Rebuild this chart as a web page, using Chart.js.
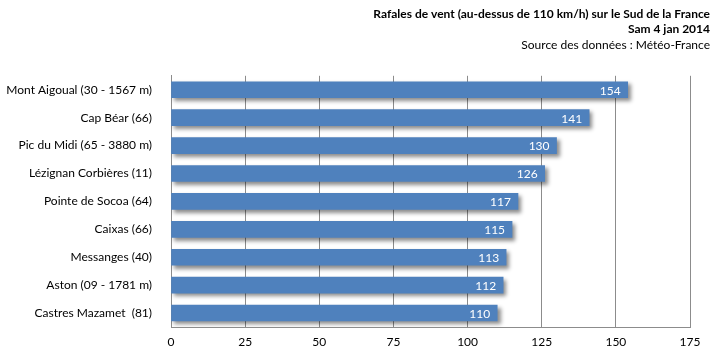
<!DOCTYPE html>
<html>
<head>
<meta charset="utf-8">
<script src="https://cdn.jsdelivr.net/npm/chart.js@4"></script>
<style>
  html, body { margin: 0; padding: 0; background: #fff; }
  #wrap { width: 716px; height: 360px; }
</style>
</head>
<body>
<div id="wrap"><canvas id="chart"></canvas></div>
<script>
const stations = [
    'Mont Aigoual (30 - 1567 m)',
    'Cap Béar (66)',
    'Pic du Midi (65 - 3880 m)',
    'Lézignan Corbières (11)',
    'Pointe de Socoa (64)',
    'Caixas (66)',
    'Messanges (40)',
    'Aston (09 - 1781 m)',
    'Castres Mazamet  (81)'
];
const gusts = [154, 141, 130, 126, 117, 115, 113, 112, 110];
const titleLines = ['Rafales de vent (au-dessus de 110 km/h) sur le Sud de la France', 'Sam 4 jan 2014'];
const sourceLine = 'Source des données : Météo-France';

const FONT = 'Lato, "Open Sans", sans-serif';
const GRID = '#8c8c8c';

// drop shadow under the bars, like the spreadsheet original
const barShadow = {
    id: 'barShadow',
    beforeDatasetsDraw(chart) {
        const ctx = chart.ctx;
        ctx.save();
        ctx.shadowColor = 'rgba(0,0,0,0.45)';
        ctx.shadowBlur = 4;
        ctx.shadowOffsetX = 3;
        ctx.shadowOffsetY = 3;
    },
    afterDatasetsDraw(chart) {
        chart.ctx.restore();
    }
};

// white value at the end of each bar
const valueLabels = {
    id: 'valueLabels',
    afterDatasetsDraw(chart) {
        const ctx = chart.ctx;
        const meta = chart.getDatasetMeta(0);
        ctx.save();
        ctx.fillStyle = '#ffffff';
        ctx.font = '12px ' + FONT;
        ctx.textAlign = 'right';
        ctx.textBaseline = 'middle';
        meta.data.forEach((bar, i) => {
            ctx.fillText(String(gusts[i]), bar.x - 7, bar.y + 1);
        });
        ctx.restore();
    }
};

const config = {
    type: 'bar',
    data: {
        labels: stations,
        datasets: [{
            data: gusts,
            backgroundColor: '#4f81bd',
            barThickness: 16
        }]
    },
    options: {
        indexAxis: 'y',
        responsive: true,
        maintainAspectRatio: false,
        animation: false,
        layout: { padding: { left: 0, right: 6, top: 0, bottom: 0 } },
        plugins: {
            legend: { display: false },
            tooltip: { enabled: false },
            title: {
                display: true,
                text: titleLines,
                align: 'end',
                color: '#000',
                font: { family: FONT, size: 12, weight: 'bold', lineHeight: 1.3 },
                padding: { top: 6, bottom: 0 }
            },
            subtitle: {
                display: true,
                text: sourceLine,
                align: 'end',
                color: '#000',
                font: { family: FONT, size: 12, lineHeight: 1.3 },
                padding: { top: 0, bottom: 23 }
            }
        },
        scales: {
            x: {
                min: 0,
                max: 175,
                ticks: {
                    stepSize: 25,
                    color: '#000',
                    padding: 8,
                    font: { family: FONT, size: 12 }
                },
                grid: { color: GRID, drawTicks: false },
                border: { display: true, color: GRID },
                afterFit(scale) {
                    scale.height = 33;
                    scale.paddingRight = 26;
                }
            },
            y: {
                ticks: {
                    color: '#000',
                    padding: 19,
                    font: { family: FONT, size: 12 }
                },
                grid: { display: false, drawTicks: false },
                border: { display: true, color: GRID },
                afterFit(scale) {
                    scale.width = 171;
                }
            }
        }
    },
    plugins: [barShadow, valueLabels]
};

const ctx = document.getElementById('chart').getContext('2d');
const chart = new Chart(ctx, config);
</script>
</body>
</html>
